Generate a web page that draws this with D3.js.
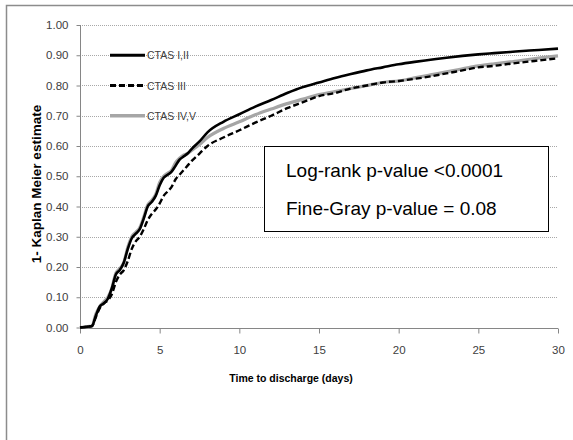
<!DOCTYPE html>
<html><head><meta charset="utf-8">
<script src="https://cdn.jsdelivr.net/npm/d3@7"></script>
<style>
html,body{margin:0;padding:0;background:#fff;}
svg{display:block;}
</style></head>
<body>
<svg id="chart" width="573" height="440"></svg>
<script>
// ---- data ----
const seriesNames = ["CTAS I,II", "CTAS III", "CTAS IV,V"];
const times = [0,0.5,0.75,1.0,1.25,1.5,1.75,2.0,2.25,2.5,2.75,3.0,3.25,3.5,3.75,4.0,4.25,4.5,4.75,5.0,5.25,5.5,5.75,6.0,6.25,6.5,6.75,7.0,7.5,8,9,10,11,12,13,14,15,16,17,18,19,20,21,22,23,24,25,26,27,28,29,30];
const ctasI_II = [0,0.003,0.005,0.04,0.07,0.08,0.095,0.13,0.175,0.19,0.215,0.26,0.295,0.31,0.325,0.36,0.40,0.415,0.435,0.47,0.495,0.505,0.515,0.535,0.555,0.565,0.575,0.59,0.615,0.645,0.68,0.705,0.73,0.752,0.775,0.795,0.81,0.825,0.838,0.85,0.86,0.87,0.878,0.885,0.892,0.898,0.903,0.907,0.911,0.915,0.918,0.922];
const ctasIII = [0,0.003,0.005,0.035,0.065,0.08,0.09,0.11,0.15,0.175,0.19,0.22,0.26,0.285,0.30,0.325,0.355,0.375,0.39,0.41,0.435,0.45,0.465,0.49,0.505,0.52,0.535,0.55,0.575,0.60,0.628,0.652,0.677,0.70,0.725,0.745,0.765,0.775,0.79,0.80,0.81,0.815,0.822,0.83,0.84,0.85,0.86,0.865,0.872,0.878,0.884,0.89];
const ctasIV_V = [0,0.003,0.005,0.045,0.07,0.085,0.10,0.13,0.18,0.195,0.215,0.265,0.30,0.315,0.33,0.365,0.405,0.42,0.44,0.48,0.50,0.51,0.52,0.545,0.56,0.57,0.575,0.585,0.605,0.628,0.658,0.68,0.703,0.722,0.74,0.755,0.77,0.78,0.79,0.80,0.81,0.815,0.825,0.835,0.845,0.855,0.865,0.872,0.878,0.885,0.892,0.898];
const xTicks = [0,5,10,15,20,25,30];
const yTicks = [0,0.1,0.2,0.3,0.4,0.5,0.6,0.7,0.8,0.9,1.0];
const annotations = ["Log-rank p-value <0.0001", "Fine-Gray p-value = 0.08"];

// ---- layout ----
const svg = d3.select("#chart");
const x = d3.scaleLinear().domain([0,30]).range([80,558]);
const y = d3.scaleLinear().domain([0,1]).range([327.5,25]);
const font = "'Liberation Sans', Arial, sans-serif";

// outer border
svg.append("path").attr("d","M6.5,440 L6.5,5.5 L573,5.5")
  .attr("fill","none").attr("stroke","#8c8c8c").attr("stroke-width",1.5);

// gridlines
svg.append("g").selectAll("line").data(yTicks.filter(d=>d>0)).join("line")
  .attr("x1",x(0)).attr("x2",x(30))
  .attr("y1",d=>Math.round(y(d))+0.5).attr("y2",d=>Math.round(y(d))+0.5)
  .attr("stroke","#a8a8a8").attr("stroke-width",1).attr("stroke-dasharray","1,1");

// y axis
const yAxis = d3.axisLeft(y).tickValues(yTicks).tickFormat(d3.format(".2f")).tickSize(4).tickPadding(8);
const gy = svg.append("g").attr("transform","translate(80.5,0)").call(yAxis);
gy.selectAll("text").attr("font-family",font).attr("font-size",11.5).attr("fill","#404040");
gy.selectAll("line,path").attr("stroke","#868686");
gy.select(".domain").attr("d","M0,"+y(1)+"V"+y(0));

// x axis
const xAxis = d3.axisBottom(x).tickValues(xTicks).tickSize(5).tickPadding(12);
const gx = svg.append("g").attr("transform","translate(0,"+(Math.round(y(0))+0.5)+")").call(xAxis);
gx.selectAll("text").attr("font-family",font).attr("font-size",11.5).attr("fill","#404040");
gx.selectAll("line,path").attr("stroke","#868686");
gx.select(".domain").attr("d","M"+x(0)+",0H"+x(30));

// axis titles
svg.append("text").attr("x",291).attr("y",382).attr("text-anchor","middle")
  .attr("font-family",font).attr("font-weight","bold").attr("font-size",10.5).attr("fill","#000")
  .text("Time to discharge (days)");
svg.append("text").attr("transform","translate(41,184) rotate(-90)").attr("text-anchor","middle")
  .attr("font-family",font).attr("font-weight","bold").attr("font-size",13.5).attr("fill","#000")
  .text("1- Kaplan Meier estimate");

// lines
const styles = [
  {vals: ctasI_II, color:"#000", width:2.6, dash:null},
  {vals: ctasIII, color:"#000", width:2.4, dash:"6,3"},
  {vals: ctasIV_V, color:"#a6a6a6", width:3.2, dash:null}
];
const line = d3.line().x(d=>x(d[0])).y(d=>y(d[1])).curve(d3.curveMonotoneX);
const order = [2,1,0];
order.forEach(i=>{
  const s = styles[i];
  svg.append("path").datum(times.map((t,k)=>[t,s.vals[k]]))
    .attr("d",line).attr("fill","none").attr("stroke",s.color)
    .attr("stroke-width",s.width).attr("stroke-dasharray",s.dash)
    .attr("stroke-linejoin","round");
});

// legend
const legY = [0.9,0.8,0.7];
seriesNames.forEach((n,i)=>{
  const s = styles[i];
  const yy = y(legY[i]);
  svg.append("line").attr("x1",110).attr("x2",145).attr("y1",yy).attr("y2",yy)
    .attr("stroke",s.color).attr("stroke-width",s.width+0.4).attr("stroke-dasharray",s.dash);
  svg.append("text").attr("x",147).attr("y",yy+4).attr("font-family",font).attr("font-size",10.5)
    .attr("fill","#404040").text(n);
});

// annotation box
svg.append("rect").attr("x",264.5).attr("y",146.5).attr("width",284).attr("height",85)
  .attr("fill","#fff").attr("stroke","#000").attr("stroke-width",1);
annotations.forEach((a,i)=>{
  svg.append("text").attr("x",286).attr("y",176.5+i*38).attr("font-family",font).attr("font-size",19)
    .attr("fill","#000").text(a);
});
</script>
</body></html>
